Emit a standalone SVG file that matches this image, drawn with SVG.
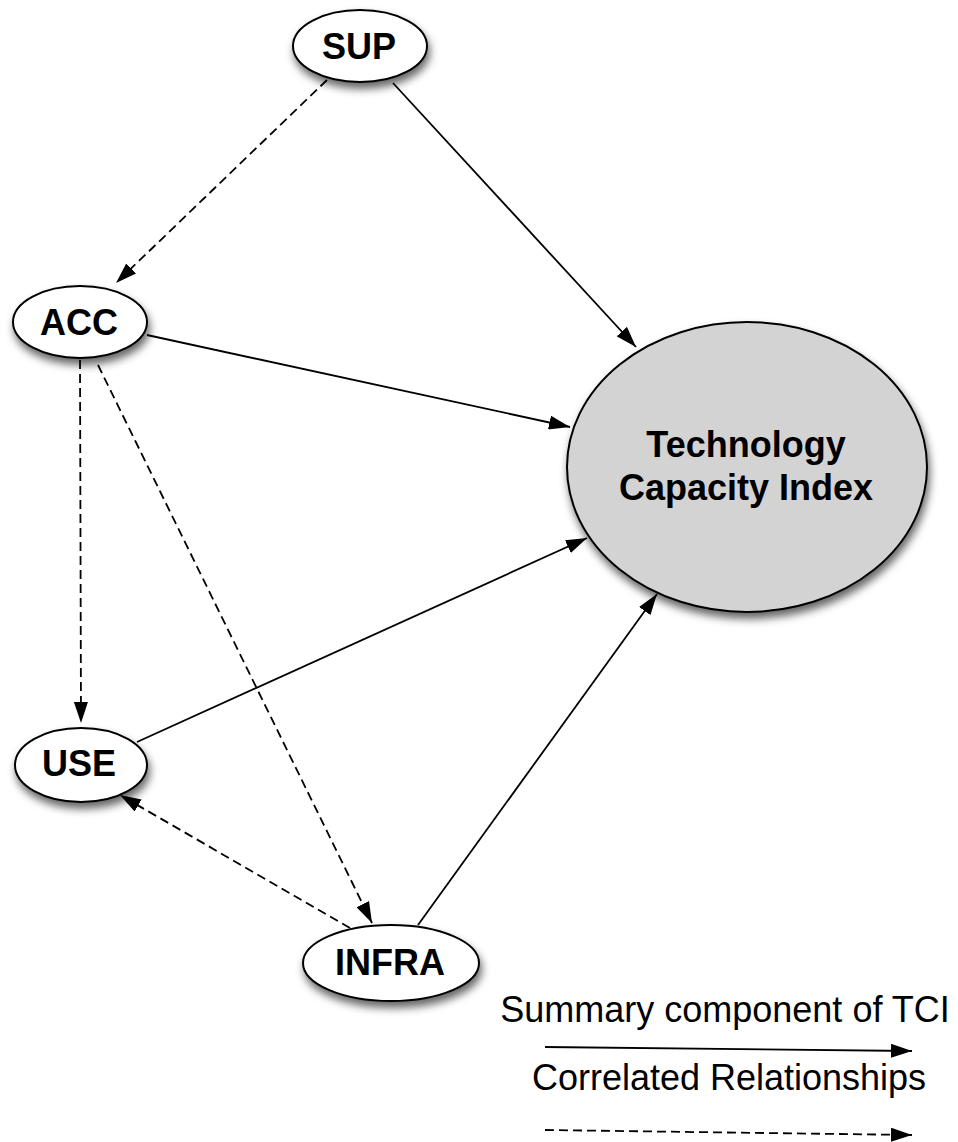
<svg xmlns="http://www.w3.org/2000/svg" width="958" height="1142" viewBox="0 0 958 1142">
  <defs>
    <filter id="shadow" x="-20%" y="-20%" width="140%" height="150%">
      <feDropShadow dx="2" dy="6" stdDeviation="4.5" flood-color="#000" flood-opacity="0.6"/>
    </filter>
    <marker id="head" viewBox="0 0 21 14" refX="21" refY="7" markerWidth="21" markerHeight="14" markerUnits="userSpaceOnUse" orient="auto">
      <path d="M0,0 L21,7 L0,14 z" fill="#000"/>
    </marker>
  </defs>
  <style>
    .node { fill: #fff; stroke: #000; stroke-width: 2; filter: url(#shadow); }
    .core { fill: #d3d3d3; stroke: #000; stroke-width: 2; filter: url(#shadow); }
    .lbl { font-family: "Liberation Sans", Arial, sans-serif; font-weight: bold; font-size: 36px; fill: #000; text-anchor: middle; }
    .legend { font-family: "Liberation Sans", Arial, sans-serif; font-size: 36px; fill: #000; text-anchor: middle; }
    .edge { fill: none; stroke: #000; stroke-width: 1.8; marker-end: url(#head); }
    .dash { stroke-dasharray: 9 5; }
  </style>
  <rect width="958" height="1142" fill="#fff"/>

  <!-- connectors -->
  <g id="connectors">
    <line class="edge" x1="393" y1="83" x2="636" y2="347"/>
    <line class="edge dash" x1="327" y1="80" x2="116" y2="283"/>
    <line class="edge" x1="147" y1="335" x2="570" y2="427"/>
    <line class="edge dash" x1="80" y1="360" x2="81" y2="723"/>
    <line class="edge dash" x1="98" y1="365" x2="372" y2="923"/>
    <line class="edge" x1="137" y1="742" x2="587" y2="538"/>
    <line class="edge dash" x1="350" y1="928" x2="120" y2="795"/>
    <line class="edge" x1="418" y1="925" x2="657" y2="594"/>
  </g>

  <g id="TCI">
    <ellipse class="core" cx="747" cy="467" rx="180" ry="145"/>
    <text class="lbl" x="746" y="457">Technology</text>
    <text class="lbl" x="746" y="500">Capacity Index</text>
  </g>
  <g id="SUP">
    <ellipse class="node" cx="360" cy="46" rx="67" ry="36"/>
    <text class="lbl" x="359" y="59">SUP</text>
  </g>
  <g id="ACC">
    <ellipse class="node" cx="80" cy="322" rx="67" ry="36"/>
    <text class="lbl" x="79" y="335">ACC</text>
  </g>
  <g id="USE">
    <ellipse class="node" cx="81" cy="765" rx="66" ry="37"/>
    <text class="lbl" x="79" y="776">USE</text>
  </g>
  <g id="INFRA">
    <ellipse class="node" cx="391" cy="963" rx="88" ry="38"/>
    <text class="lbl" x="390" y="975">INFRA</text>
  </g>

  <g id="legend">
    <text class="legend" x="725" y="1022">Summary component of TCI</text>
    <line class="edge" x1="545" y1="1047" x2="912" y2="1051"/>
    <text class="legend" x="729" y="1090">Correlated Relationships</text>
    <line class="edge dash" x1="545" y1="1130" x2="912" y2="1135"/>
  </g>
</svg>
